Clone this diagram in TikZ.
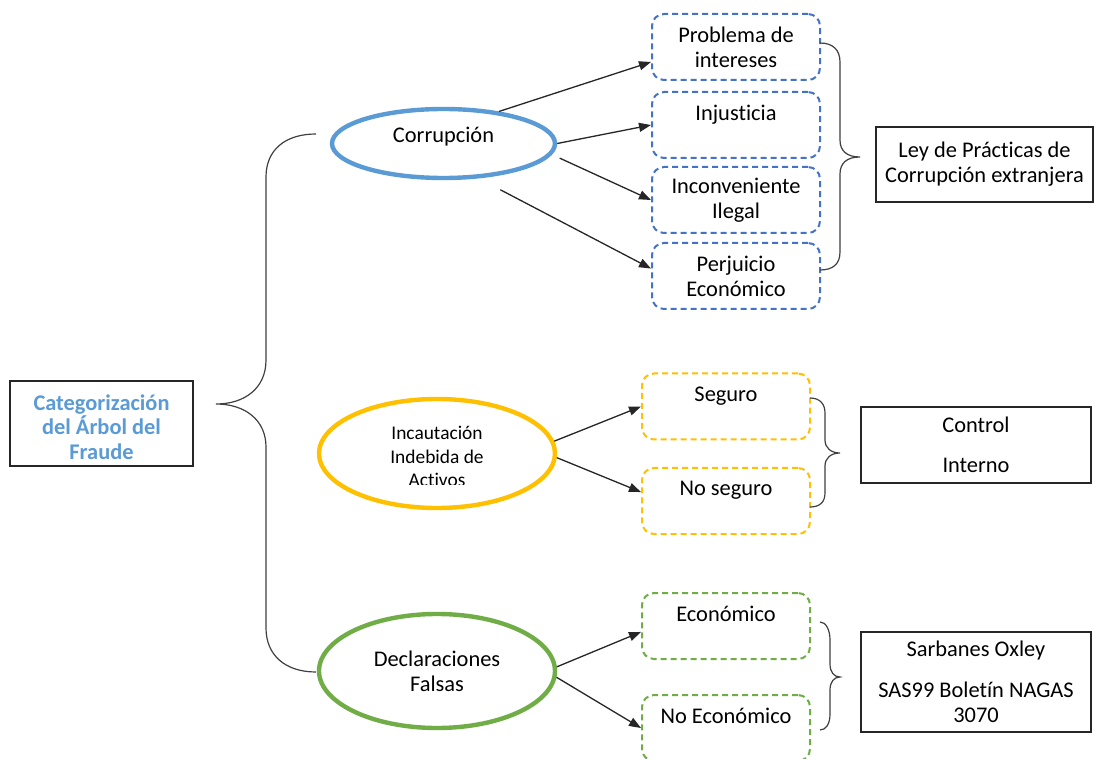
\documentclass[tikz,border=0pt]{standalone}
\usepackage{fontspec}
\setmainfont{Carlito}[Ligatures={NoCommon,NoContextual,NoRequired}]
\usepackage{tikz}
\usetikzlibrary{shapes.geometric, arrows.meta}
\definecolor{catblue}{HTML}{5B9BD5}
\definecolor{leafblue}{HTML}{4472C4}
\definecolor{incorange}{HTML}{FFC000}
\definecolor{declgreen}{HTML}{70AD47}
\tikzset{
    root-box/.style = {draw=black!85, line width=0.75pt, minimum width=91.5pt, minimum height=42.5pt, inner sep=2pt, align=center, text=catblue, text height=35.5pt, text depth=0pt, font=\bfseries\fontsize{11.2}{12.25}\selectfont},
    cat-ellipse/.style = {ellipse, line width=2.2pt, align=center, inner sep=0pt},
    leaf-box/.style = {dash pattern=on 3pt off 2pt, line width=1pt, rounded corners=6pt, minimum width=84pt, minimum height=33pt, inner sep=0pt, align=center},
    law-box/.style = {draw=black!85, line width=0.7pt, align=center, inner sep=0pt},
    branch/.style = {-{Triangle[length=6pt,width=4.5pt]}, line width=0.65pt, black!85},
    curly/.style = {line width=0.6pt, black!75},
}

\begin{document}
\begin{tikzpicture}[x=0.5pt, y=-0.5pt, font=\fontsize{11.2}{12.5}\selectfont]
\path[use as bounding box, fill=white] (0,0) rectangle (1099,759);

\node[root-box] (root) at (101.5,423.5) {Categorización\\del Árbol del\\Fraude};

% the three categories
\node[cat-ellipse, draw=catblue, minimum width=111.5pt, minimum height=34.5pt, text height=8pt, text depth=8.9pt] (corr) at (443.5,143.5) {Corrupción};
\node[cat-ellipse, draw=incorange, minimum width=118pt, minimum height=54.5pt] (inc) at (437,453.5) {};
\begin{scope}
\clip (317,400) rectangle (557,485);
\node[align=center, font=\fontsize{9.7}{11.8}\selectfont] (inc-text) at ([yshift=-1.5pt]inc.center) {Incautación\\Indebida de\\Activos};
\end{scope}
\node[cat-ellipse, draw=declgreen, minimum width=118pt, minimum height=57pt] (decl) at (437,671) {Declaraciones\\Falsas};

\draw[curly] (316,134) .. controls (285,134) and (266,150) .. (266,177) -- (266,360)
    .. controls (266,388) and (245,404) .. (216,404) .. controls (245,404) and (266,420) .. (266,447)
    -- (266,628) .. controls (266,655) and (285,672) .. (316,672);

% leaves
\node[leaf-box, draw=leafblue] (interes) at (736,47) {Problema de\\intereses};
\node[leaf-box, draw=leafblue] (injust) at (736,125) {Injusticia\\\mbox{}};
\node[leaf-box, draw=leafblue] (ilegal) at (736,200) {Inconveniente\\Ilegal};
\node[leaf-box, draw=leafblue] (perj) at (736,276) {Perjuicio\\Económico};
\node[leaf-box, draw=incorange] (seg) at (726,406.5) {Seguro\\\mbox{}};
\node[leaf-box, draw=incorange] (noseg) at (726,501) {No seguro\\\mbox{}};
\node[leaf-box, draw=declgreen] (econ) at (726,626) {Económico\\\mbox{}};
\node[leaf-box, draw=declgreen] (noecon) at (726,728) {No Económico\\\mbox{}};

\draw[branch] (corr.30) -- (interes.190);
\draw[branch] (corr.east) -- (injust.west);
\draw[branch] ([xshift=6pt]corr.-8) -- (ilegal.west);
\draw[branch] ([shift={(16,12)}]corr.-40) -- (perj.175);
\draw[branch] (inc.6) -- (seg.west);
\draw[branch] (inc.-2) -- (noseg.174);
\draw[branch] (decl.2) -- (econ.184);
\draw[branch] (decl.-3) -- (noecon.west);

% norms
\node[law-box, minimum width=108.5pt, minimum height=37.5pt] (law) at (984.5,164.5) {Ley de Prácticas de\\Corrupción extranjera};
\node[law-box, minimum width=115pt, minimum height=38pt] (ctrl) at (976,445) {Control\\[7.5pt]Interno};
\node[law-box, minimum width=115pt, minimum height=50pt] (sox) at (976,682) {Sarbanes Oxley\\[8pt]SAS99 Boletín NAGAS\\3070};

\draw[curly] (820,43) .. controls (833,43) and (840,50) .. (840,62) -- (840,140)
    .. controls (840,151) and (847,157) .. (860,157) .. controls (847,157) and (840,163) .. (840,174)
    -- (840,252) .. controls (840,264) and (833,270) .. (820,270);
\draw[curly] (810,398) .. controls (820,398) and (825,404) .. (825,413) -- (825,440)
    .. controls (825,448) and (831,453) .. (840,453) .. controls (831,453) and (825,458) .. (825,466)
    -- (825,493) .. controls (825,502) and (820,507) .. (810,507);
\draw[curly] (820,622) .. controls (826,622) and (830,630) .. (830,640) -- (830,664)
    .. controls (830,672) and (834,677) .. (840,677) .. controls (834,677) and (830,682) .. (830,690)
    -- (830,714) .. controls (830,724) and (826,730) .. (820,730);
\end{tikzpicture}
\end{document}
